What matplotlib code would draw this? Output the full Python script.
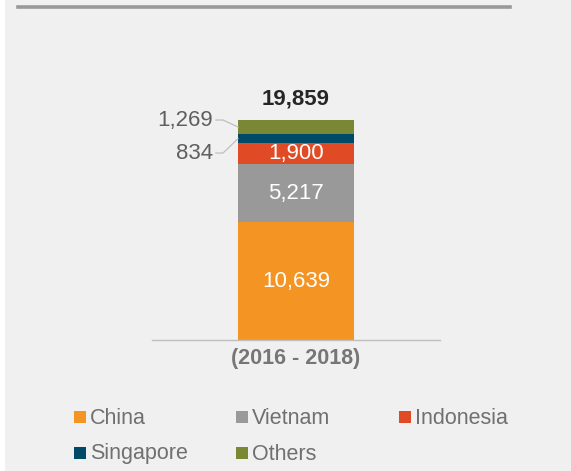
import matplotlib
matplotlib.use("Agg")
import matplotlib.pyplot as plt
from matplotlib.patches import Rectangle

plt.rcParams["font.family"] = ["Liberation Sans", "DejaVu Sans"]

# data
category = "(2016 - 2018)"
countries = ["China", "Vietnam", "Indonesia", "Singapore", "Others"]
values = [10639, 5217, 1900, 834, 1269]
colors = ["#f39423", "#999999", "#e04b26", "#004a68", "#7a8836"]

W, H = 571, 471
fig = plt.figure(figsize=(W / 100, H / 100), dpi=100)
fig.patch.set_facecolor("#f0f0f0")
fig.patches.append(Rectangle((0, 0), 5 / W, 1, transform=fig.transFigure,
                             fc="white", ec="none", zorder=0))
# header rule
fig.add_artist(plt.Line2D([18 / W, 510 / W], [1 - 7 / H, 1 - 7 / H],
                          transform=fig.transFigure, color="#999999", lw=2.6))


def fx(px):
    return px / W


def fy(py):
    return 1 - py / H


ax = fig.add_axes([fx(152), fy(340), fx(440) - fx(152), (340 - 40) / H])
ax.set_facecolor("none")
ax.set_xlim(-1, 1)
ax.set_ylim(0, 300 / 0.01108)
for s in ["top", "right", "left"]:
    ax.spines[s].set_visible(False)
ax.spines["bottom"].set_color("#bfbfbf")
ax.spines["bottom"].set_linewidth(1.0)
ax.set_yticks([])
ax.set_xticks([0])
ax.set_xticklabels([category], fontsize=15.5, fontweight="bold", color="#767676")
ax.tick_params(axis="x", length=0, pad=6)

bw = 2 * 116 / 288
bottom = 0
mids = []
for name, v, c in zip(countries, values, colors):
    ax.bar(0, v, bw, bottom=bottom, color=c, edgecolor="none")
    mids.append(bottom + v / 2)
    bottom += v
total = bottom

# inner labels
for i in range(3):
    ax.text(0, mids[i], f"{values[i]:,}", ha="center", va="center",
            fontsize=16, color="white")

# outside labels with leader lines
xl = -bw / 2
x_txt = (213 - 296) * 2 / 288
x_knee = (223 - 296) * 2 / 288
out = [(4, mids[4] + 630), (3, mids[3] - 1300)]
for idx, ly in out:
    ax.plot([x_txt + 0.02, x_knee, xl], [ly, ly, mids[idx]], color="#bfbfbf",
            lw=0.9, clip_on=False)
    ax.text(x_txt, ly, f"{values[idx]:,}", ha="right", va="center",
            fontsize=16, color="#5f5f5f")

ax.text(0, total + 1900, f"{total:,}", ha="center", va="center",
        fontsize=16, fontweight="bold", color="#262626")

# legend
leg_pos = [(80, 417), (242, 417), (405, 417), (80, 453), (242, 453)]
for (px, py), name, c in zip(leg_pos, countries, colors):
    fig.patches.append(Rectangle((fx(px - 6), fy(py + 6)), 12 / W, 12 / H,
                                 transform=fig.transFigure, fc=c, ec="none"))
    fig.text(fx(px + 10), fy(py + 1), name, ha="left", va="center",
             fontsize=15.5, color="#707070")

fig.savefig("out.png", dpi=100, facecolor=fig.get_facecolor())
